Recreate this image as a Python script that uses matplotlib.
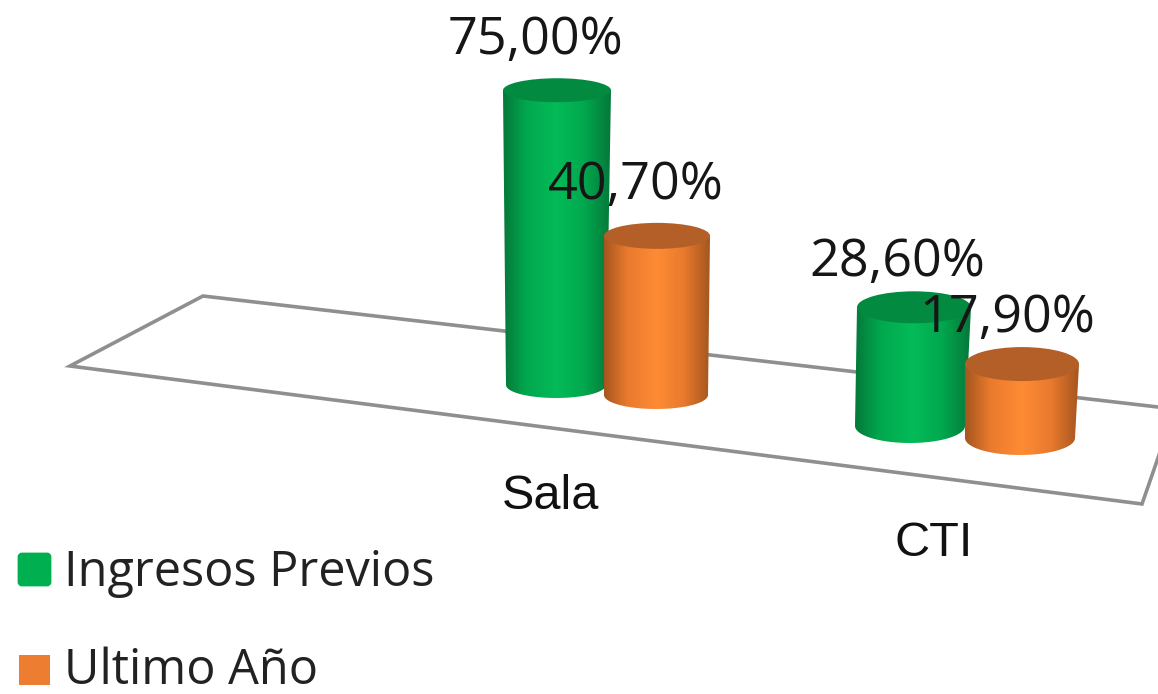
import numpy as np
import matplotlib
matplotlib.use("Agg")
import matplotlib.pyplot as plt
from matplotlib.colors import LinearSegmentedColormap
from matplotlib.patches import Ellipse, Polygon, PathPatch, FancyBboxPatch, Rectangle
from matplotlib.path import Path

# chart values
categories = ["Sala", "CTI"]
series_names = ["Ingresos Previos", "Ultimo Año"]
ingresos_previos = [75.00, 28.60]
ultimo_ano = [40.70, 17.90]

W, H = 1158, 694
fig = plt.figure(figsize=(W / 100, H / 100), dpi=100)
ax = fig.add_axes([0, 0, 1, 1])
ax.set_xlim(0, W)
ax.set_ylim(H, 0)
ax.axis("off")

plt.rcParams["font.family"] = ["Open Sans", "DejaVu Sans"]

GREEN = ("#05783a", "#04bb58", "#01a84e", "#038a41")
ORANGE = ("#a5561f", "#ff8b34", "#e97a2e", "#b45f27")

# floor
floor = Polygon([(70, 366), (203, 296), (1175, 409), (1142, 504)], closed=True,
                facecolor="white", edgecolor="#8f8f8f", lw=2.6, zorder=1)
ax.add_patch(floor)

# where each bar stands:
# (base centre x, top centre x, floor y, base half width, top half width, top ry, base ry, px per unit)
layout = {
    (0, 0): (556, 557, 385, 50, 54, 12, 13, 3.93),
    (0, 1): (656, 657, 395, 52, 53, 13, 14, 3.91),
    (1, 0): (910, 914, 426, 55, 57, 16, 17, 4.15),
    (1, 1): (1020, 1022, 438, 55, 57, 17, 17, 4.13),
}


def cylinder(cx, cx_top, base_y, hw_bot, hw_top, ry_top, ry_bot, height, colors, z):
    dark, light, mid, top = colors
    top_y = base_y - height
    cmap = LinearSegmentedColormap.from_list(
        "c", [(0, dark), (0.22, mid), (0.5, light), (0.75, mid), (1, dark)])
    grad = np.linspace(0, 1, 256).reshape(1, -1)
    left = min(cx - hw_bot, cx_top - hw_top)
    right = max(cx + hw_bot, cx_top + hw_top)
    im = ax.imshow(grad, cmap=cmap, aspect="auto", zorder=z,
                   extent=(left, right, base_y + ry_bot, top_y))
    # side outline with a rounded bottom
    t = np.linspace(0, np.pi, 40)
    bx = cx + hw_bot * np.cos(t)
    by = base_y + ry_bot * np.sin(t)
    verts = [(cx_top - hw_top, top_y), (cx_top + hw_top, top_y)] + list(zip(bx, by)) + [(cx_top - hw_top, top_y)]
    codes = [Path.MOVETO] + [Path.LINETO] * (len(verts) - 2) + [Path.CLOSEPOLY]
    clip = PathPatch(Path(verts, codes), transform=ax.transData, facecolor="none", edgecolor="none")
    ax.add_patch(clip)
    im.set_clip_path(clip)
    # back half of the rim is the same colour as the lid
    ax.add_patch(Ellipse((cx_top, top_y), 2 * hw_top, 2 * ry_top, facecolor=top, edgecolor="none", zorder=z + 0.1))
    return top_y


all_values = [ingresos_previos, ultimo_ano]
all_colors = [GREEN, ORANGE]
label_offset = {(0, 0): (-22, -53), (0, 1): (-21, -53), (1, 0): (-17, -48), (1, 1): (-15, -49)}

for c in range(len(categories)):
    for s in range(len(series_names)):
        val = all_values[s][c]
        cx, cx_top, base_y, hw_bot, hw_top, ry_top, ry_bot, scale = layout[(c, s)]
        top_y = cylinder(cx, cx_top, base_y, hw_bot, hw_top, ry_top, ry_bot, val * scale, all_colors[s], 3 + s + c * 3)
        dx, dy = label_offset[(c, s)]
        ax.text(cx_top + dx, top_y + dy + 3, f"{val:.2f}%".replace(".", ","), fontsize=37.5, color="#161616",
                ha="center", va="center", zorder=20)

# category labels
ax.text(551, 496, categories[0], fontsize=35, family="Liberation Sans", color="#111111",
        ha="center", va="center", zorder=20)
ax.text(934, 543, categories[1], fontsize=35, family="Liberation Sans", color="#111111",
        ha="center", va="center", zorder=20)

# legend
ax.add_patch(FancyBboxPatch((19, 554), 31, 31, boxstyle="round,pad=0,rounding_size=3",
                            facecolor="#00b050", edgecolor="#00b050", lw=2, zorder=5))
ax.add_patch(Rectangle((19, 655), 31, 30, facecolor="#ed7d31", edgecolor="none", zorder=5))
ax.text(64, 573, series_names[0], fontsize=35, color="#222222", ha="left", va="center", zorder=20)
ax.text(64, 671, series_names[1], fontsize=35, color="#222222", ha="left", va="center", zorder=20)

fig.savefig("out.png", dpi=100)
